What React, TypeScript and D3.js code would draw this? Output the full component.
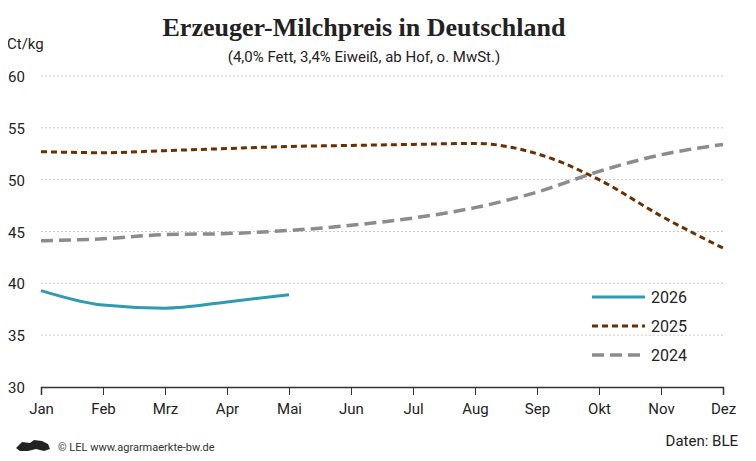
import React, { useEffect, useRef } from "react";
import * as d3 from "d3";

const months = ["Jan", "Feb", "Mrz", "Apr", "Mai", "Jun", "Jul", "Aug", "Sep", "Okt", "Nov", "Dez"];
const yTicks = [30, 35, 40, 45, 50, 55, 60];
const values2026 = [39.3, 37.9, 37.6, 38.2, 38.9];
const values2025 = [52.7, 52.6, 52.8, 53.0, 53.2, 53.3, 53.4, 53.5, 52.5, 50.0, 46.5, 43.4];
const values2024 = [44.1, 44.3, 44.7, 44.8, 45.1, 45.6, 46.3, 47.3, 48.8, 50.8, 52.4, 53.4];

const series = [
  { name: "2026", values: values2026, color: "#2e9bb1", dash: "none", width: 3 },
  { name: "2025", values: values2025, color: "#6b2f00", dash: "6,4", width: 3 },
  { name: "2024", values: values2024, color: "#8c8c8c", dash: "12,6", width: 3.5 },
];

export default function App() {
  const svgRef = useRef<SVGSVGElement>(null);

  useEffect(() => {
    const width = 756;
    const height = 461;
    const svg = d3.select(svgRef.current);
    svg.selectAll("*").remove();
    svg.attr("viewBox", `0 0 ${width} ${height}`);
    const font = "Roboto, sans-serif";

    svg.append("rect").attr("x", 0.5).attr("y", 0.5).attr("width", width - 1).attr("height", height - 1)
      .attr("fill", "#fff").attr("stroke", "#222").attr("stroke-width", 1.5);

    const x = d3.scalePoint<string>().domain(months).range([41, 723]);
    const y = d3.scaleLinear().domain([30, 60]).range([387, 76]);

    // grid
    svg.append("g").selectAll("line").data(yTicks.filter((t) => t > 30)).join("line")
      .attr("x1", 41).attr("x2", 723).attr("y1", (d) => y(d)).attr("y2", (d) => y(d))
      .attr("stroke", "#c8c8c8").attr("stroke-dasharray", "2,2");

    svg.append("g").selectAll("text").data(yTicks).join("text")
      .attr("x", 8).attr("y", (d) => y(d) + 6).text((d) => d)
      .attr("font-family", font).attr("font-size", 15).attr("fill", "#222");

    // x axis
    const xAxis = svg.append("g").attr("transform", `translate(0,387)`)
      .call(d3.axisBottom(x).tickSize(8).tickPadding(8));
    xAxis.select(".domain").attr("stroke", "#333").attr("stroke-width", 1.5);
    xAxis.selectAll("line").attr("stroke", "#333");
    xAxis.selectAll("text").attr("font-family", font).attr("font-size", 15).attr("fill", "#222");

    const line = d3.line<number>()
      .x((_, i) => x(months[i])!)
      .y((d) => y(d))
      .curve(d3.curveMonotoneX);

    series.slice().reverse().forEach((s) => {
      svg.append("path").datum(s.values).attr("d", line).attr("fill", "none")
        .attr("stroke", s.color).attr("stroke-width", s.width).attr("stroke-dasharray", s.dash);
    });

    // legend
    series.forEach((s, i) => {
      const ly = 297 + i * 29;
      svg.append("line").attr("x1", 592).attr("x2", 645).attr("y1", ly).attr("y2", ly)
        .attr("stroke", s.color).attr("stroke-width", s.width).attr("stroke-dasharray", s.dash);
      svg.append("text").attr("x", 651).attr("y", ly + 6).text(s.name)
        .attr("font-family", font).attr("font-size", 16).attr("fill", "#222");
    });

    svg.append("text").attr("x", 364).attr("y", 36).attr("text-anchor", "middle")
      .text("Erzeuger-Milchpreis in Deutschland")
      .attr("font-family", "'Liberation Serif', serif").attr("font-weight", "bold").attr("font-size", 26)
      .attr("fill", "#222");
    svg.append("text").attr("x", 364).attr("y", 62).attr("text-anchor", "middle")
      .text("(4,0% Fett, 3,4% Eiweiß, ab Hof, o. MwSt.)")
      .attr("font-family", font).attr("font-size", 15).attr("fill", "#222");
    svg.append("text").attr("x", 7).attr("y", 49).text("Ct/kg")
      .attr("font-family", font).attr("font-size", 15).attr("fill", "#222");
    svg.append("text").attr("x", 738).attr("y", 446).attr("text-anchor", "end").text("Daten: BLE")
      .attr("font-family", font).attr("font-size", 15).attr("fill", "#222");
    svg.append("text").attr("x", 58).attr("y", 451).text("© LEL www.agrarmaerkte-bw.de")
      .attr("font-family", font).attr("font-size", 11).attr("fill", "#333");
    // lion logo placeholder
    svg.append("path").attr("d", "M16 448 L22 442 L30 443 L34 440 L42 441 L48 444 L50 449 L44 451 L36 449 L28 451 L20 451 Z")
      .attr("fill", "#222");
  }, []);

  return <svg ref={svgRef} width={756} height={461} style={{ display: "block", margin: "-8px" }}></svg>;
}
